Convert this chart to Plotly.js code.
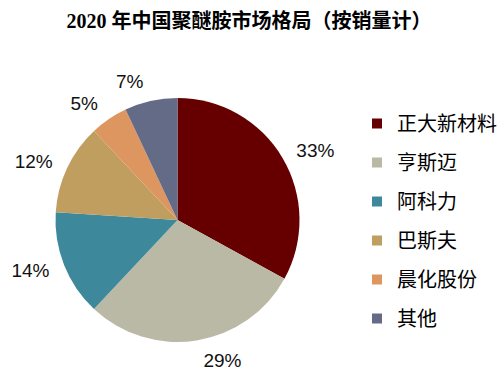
<!DOCTYPE html>
<html><head><meta charset="utf-8">
<script src="https://cdn.plot.ly/plotly-3.0.1.min.js"></script>
<style>html,body{margin:0;padding:0;background:#fff}#c{width:504px;height:377px}</style>
</head><body><div id="c"></div>
<script>
const categories = ['正大新材料','亨斯迈','阿科力','巴斯夫','晨化股份','其他'];
const shares = [33, 29, 14, 12, 5, 7];
const colors = ['#660000','#BAB9A6','#3D899B','#BF9E5F','#DE9660','#646B86'];

// pie geometry (pixels)
const W = 504, H = 377, cx = 177.5, cy = 220, r = 122, rLab = 132;
const dom = rad => ({x:[(cx-rad)/W, (cx+rad)/W], y:[1-(cy+rad)/H, 1-(cy-rad)/H]});

const traces = [{
  type:'pie', labels:categories, values:shares, sort:false, direction:'clockwise', rotation:0,
  marker:{colors:colors, line:{width:0}}, textinfo:'none', showlegend:false,
  domain:dom(r), hoverinfo:'none'
},{
  type:'pie', labels:categories, values:shares, sort:false, direction:'clockwise', rotation:0,
  marker:{colors:categories.map(()=> 'rgba(0,0,0,0)'), line:{width:0}},
  texttemplate:'%{value}%', textposition:'outside', showlegend:false,
  textfont:{family:'Liberation Sans, Arial, sans-serif', size:19, color:'#111'},
  domain:dom(rLab), hoverinfo:'none'
}];
categories.forEach((c,i)=>{
  traces.push({type:'scatter', mode:'markers', x:[null], y:[null], name:c, legendgroup:'g'+i,
    marker:{symbol:'square', size:10, color:colors[i]}, showlegend:true, hoverinfo:'none'});
});

const layout = {
  width:W, height:H, margin:{l:0,r:0,t:0,b:0}, paper_bgcolor:'#fff', plot_bgcolor:'#fff',
  title:{text:'<b>2020 年中国聚醚胺市场格局（按销量计）</b>', x:249/W, xanchor:'center', y:1-21/H, yanchor:'middle',
    font:{family:'Liberation Serif, Noto Sans CJK SC, serif', size:20, color:'#000'}},
  xaxis:{visible:false}, yaxis:{visible:false},
  showlegend:true,
  legend:{x:357/W, xanchor:'left', y:1-104/H, yanchor:'top', tracegroupgap:10, itemwidth:30,
    font:{family:'Noto Sans CJK SC, sans-serif', size:20, color:'#000'}, bgcolor:'rgba(0,0,0,0)'}
};
Plotly.newPlot('c', traces, layout, {staticPlot:true});
</script></body></html>
